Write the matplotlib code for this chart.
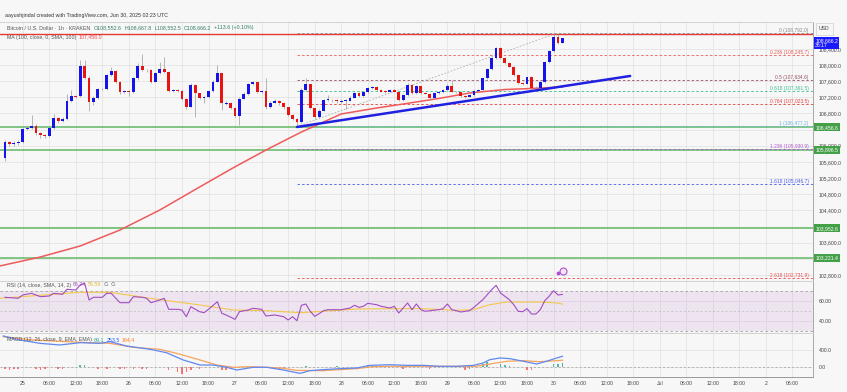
import matplotlib
matplotlib.use("Agg")
import matplotlib.pyplot as plt
import matplotlib.transforms as mtransforms

plt.rcParams['font.family'] = ['Liberation Sans', 'DejaVu Sans']

# ---------------- data ----------------
# hours counted from 2025-06-25 00:00 UTC, 1h candles (BTC/USD, Kraken)
candle_start_hour = -4
opens = [105690, 106100, 106050, 106060, 106100, 106410, 106440, 106500, 106310, 106260,
         106240, 106440, 106680, 106620, 106660, 107110, 107230, 107225, 107980, 107690,
         107075, 107180, 107400, 107410, 107750, 107860, 107590, 107330, 107340, 107330,
         107670, 107980, 107880, 107870, 107590, 107790, 107890, 107820, 107360, 107370,
         107360, 107160, 106970, 107505, 107300, 107190, 107200, 107360, 107590, 107790,
         107050, 107060, 106930, 106740, 107170, 107280, 107520, 107570, 107340, 107350,
         106950, 107070, 107110, 107050, 106950, 106760, 106660, 106580, 107380, 107520,
         106930, 106700, 106870, 107130, 107140, 107125, 107100, 107110, 107120, 107190,
         107315, 107230, 107330, 107422, 107447, 107381, 107340, 107335, 107381, 107340,
         107133, 107257, 107505, 107300, 107470, 107300, 107290, 107191, 107298, 107323,
         107381, 107488, 107340, 107320, 107232, 107216, 107257, 107365, 107370, 107670,
         107893, 108165, 108413, 108165, 108058, 107959, 107752, 107546, 107540, 107700,
         107422, 107440, 107571, 108066, 108355, 108702, 108552.6]
highs = [106150, 106130, 106110, 106140, 106440, 106480, 106760, 106530, 106330, 106290,
         106470, 106780, 106700, 106700, 107280, 107380, 107260, 108120, 108120, 107720,
         107230, 107430, 107440, 107780, 107950, 107880, 107610, 107380, 107370, 107700,
         108040, 108270, 107910, 107890, 107820, 108080, 108190, 107840, 107400, 107400,
         107380, 107180, 107560, 107520, 107310, 107230, 107380, 107620, 108000, 107810,
         107110, 107080, 106950, 107200, 107320, 107550, 107600, 107590, 107380, 107690,
         107100, 107150, 107130, 107060, 106960, 106780, 106680, 107420, 107690, 107540,
         106940, 106900, 107160, 107260, 107170, 107150, 107150, 107160, 107220, 107340,
         107340, 107350, 107450, 107470, 107470, 107400, 107370, 107400, 107400, 107360,
         107280, 107560, 107530, 107500, 107490, 107330, 107310, 107320, 107350, 107400,
         107520, 107630, 107360, 107340, 107260, 107280, 107390, 107400, 107690, 107920,
         108190, 108440, 108440, 108190, 108080, 107980, 107770, 107580, 107711, 107720,
         107470, 107600, 108090, 108380, 108792, 108760, 108667.8]
lows = [105620, 106000, 105990, 106020, 106060, 106380, 106420, 106260, 106200, 106190,
        106220, 106420, 106560, 106580, 106630, 107090, 107190, 107200, 107650, 106850,
        107000, 107150, 107370, 107390, 107730, 107560, 107290, 107300, 107220, 107310,
        107640, 107850, 107830, 107560, 107570, 107770, 107790, 107330, 107330, 107320,
        107130, 106920, 106950, 106700, 107150, 107050, 107180, 107340, 107570, 106880,
        107000, 106900, 106700, 106520, 107150, 107260, 107500, 107310, 107300, 106920,
        106930, 107050, 107020, 106920, 106730, 106630, 106477.2, 106560, 107360, 106900,
        106660, 106680, 106850, 107110, 107090, 107060, 107050, 106900, 107100, 107180,
        107200, 107210, 107310, 107400, 107360, 107320, 107310, 107320, 107320, 107110,
        107110, 107240, 107280, 107280, 107280, 107270, 107170, 107170, 107280, 107300,
        107360, 107320, 107300, 107210, 107190, 107200, 107240, 107340, 107350, 107650,
        107870, 108140, 108140, 108030, 107940, 107730, 107520, 107510, 107520, 107380,
        107380, 107420, 107550, 108040, 108330, 108530, 108552.5]
closes = [106100, 106050, 106060, 106100, 106410, 106440, 106500, 106310, 106260, 106240,
          106440, 106680, 106620, 106660, 107110, 107230, 107225, 107980, 107690, 107075,
          107180, 107400, 107410, 107750, 107860, 107590, 107330, 107340, 107330, 107670,
          107980, 107880, 107870, 107590, 107790, 107890, 107820, 107360, 107370, 107360,
          107160, 106970, 107505, 107300, 107190, 107200, 107360, 107590, 107790, 107050,
          107060, 106930, 106740, 107170, 107280, 107520, 107570, 107340, 107350, 106950,
          107070, 107110, 107050, 106950, 106760, 106660, 106580, 107380, 107520, 106930,
          106700, 106870, 107130, 107140, 107125, 107100, 107110, 107120, 107190, 107315,
          107230, 107330, 107422, 107447, 107381, 107340, 107335, 107381, 107340, 107133,
          107257, 107505, 107300, 107470, 107300, 107290, 107191, 107298, 107323, 107381,
          107488, 107340, 107320, 107232, 107216, 107257, 107365, 107370, 107670, 107893,
          108165, 108413, 108165, 108058, 107959, 107752, 107546, 107540, 107700, 107422,
          107440, 107571, 108066, 108355, 108702, 108552.6, 108666.2]

ma_hours = [-5.2, 4, 13, 22, 31, 40, 47.5, 55, 63, 72, 80, 86, 94, 101, 109, 115, 122]
ma_values = [103022, 103245, 103518, 103914, 104409, 104979, 105449, 105895, 106341,
             106787, 106935, 107034, 107170, 107307, 107393, 107418, 107456.0]

rsi_hours = [-4, -1, 0, 2, 4, 6, 7, 9, 10, 12, 13, 14, 15, 16, 18, 19, 20, 22, 24, 25,
             27, 28, 29, 31, 32, 33, 35, 36, 37, 38, 40, 41, 42, 44, 45, 46, 48, 49, 51, 52,
             54, 55, 57, 59, 60, 61, 62, 63, 64, 65, 66, 67, 68, 69, 72, 74, 75, 76, 77, 78,
             80, 81, 83, 84, 85, 86, 87, 88, 89, 90, 91, 94, 95, 96, 97, 98, 99, 101, 102, 104,
             105, 106, 107, 108, 109, 110, 111, 112, 113, 114, 115, 116, 117, 118, 119, 120, 121, 122]
rsi_values = [63.4, 62.4, 65.7, 67.4, 64.0, 64.7, 67.4, 66.4, 71.4, 70.7, 75.7, 77.4, 60.7, 63.4,
              63.4, 67.4, 67.4, 58.0, 58.0, 64.0, 63.4, 62.4, 58.0, 60.7, 62.4, 51.4, 51.4, 50.7,
              44.0, 54.0, 49.0, 48.0, 51.4, 59.0, 47.4, 45.7, 41.4, 49.0, 50.7, 52.4, 51.4, 44.7,
              45.7, 44.0, 40.7, 44.0, 40.0, 55.4, 56.7, 49.4, 44.4, 47.0, 50.0, 51.0, 51.0, 52.7,
              55.4, 53.4, 54.4, 57.4, 56.0, 54.4, 52.7, 54.4, 47.7, 52.7, 57.7, 51.0, 56.7, 51.0,
              49.4, 51.0, 52.0, 56.7, 51.0, 50.0, 48.7, 50.0, 53.4, 61.0, 66.0, 71.0, 75.4, 67.7,
              64.4, 61.0, 56.0, 49.4, 49.0, 52.0, 46.7, 46.7, 51.0, 60.0, 64.5, 70.0, 65.7, 66.24]
rsi_sma_hours = [-5.2, 13, 19.7, 28.8, 40.1, 47.6, 55.2, 62.7, 67.9, 75.6, 83, 90.5, 98.2,
                 101.8, 105.6, 109.5, 113.1, 116.9, 120.8, 122]
rsi_sma_values = [62.4, 68.4, 68.4, 62.4, 55.7, 50.7, 50.0, 48.0, 49.4, 51.7, 52.0, 52.0, 50.4,
                  51.0, 56.0, 58.7, 58.7, 58.7, 57.7, 56.59]

macd_hours = [-4.4, -0.6, 3.9, 8.4, 13.0, 17.5, 19.7, 23.5, 28.8, 32.5, 36.3, 40.1, 43.1, 46.1,
              48.4, 52.1, 55.2, 58.9, 60.4, 62.7, 64.9, 67.9, 71.7, 75.5, 78.5, 83.0, 86.8, 90.6,
              94.3, 98.1, 101.9, 104.1, 105.6, 107.9, 110.1, 113.2, 116.2, 118.4, 120.7, 122]
macd_values = [724, 631, 554, 516, 569, 554, 593, 492, 416, 338, 169, 53, 53, 0, -62, 0, 0, -62,
               -93, -140, -78, -54, -31, -16, 45, 60, 45, 45, 23, 23, 45, 100, 177, 215, 200, 139,
               77, 139, 215, 253.5]
signal_hours = [-4.4, 2.4, 9.9, 15.2, 19.7, 25.0, 31.0, 34.8, 40.1, 43.9, 47.6, 51.4, 55.2, 58.9,
                61.8, 67.9, 75.5, 79.2, 83.0, 90.6, 98.1, 102.6, 105.6, 109.4, 113.2, 116.9,
                120.7, 122]
signal_values = [708, 631, 593, 569, 554, 462, 416, 323, 169, 53, 0, 15, 0, -23, -70, -78, -31,
                 16, 23, 23, 23, 23, 77, 139, 154, 130, 154, 164.4]
hist_hours = [-4, -3, -2, -1, 3, 4, 5, 8, 9, 13, 14, 17, 19, 22, 23, 25, 27, 28, 33, 35, 36, 37,
              38, 40, 45, 46, 47, 57, 58, 59, 64, 71, 78, 79, 86, 92, 100, 101, 104, 105, 108,
              109, 110, 114, 115, 120, 121, 122]
hist_values = [-40, -60, -50, -40, -50, -60, -40, -40, -45, 50, 45, -40, -35, -45, -50, -40, -45,
               -50, -60, -110, -150, -100, -60, -50, -70, -60, -50, -40, -45, -40, 40, 30, 50,
               45, -35, -40, -55, -50, 80, 115, 70, 60, 40, -60, -70, 80, 85, 89.1]

support_levels = [106456.6, 105896.5, 103952.6, 103221.4]
resistance_level = 108760
fib_start_hour = 62
fib_ratio_labels = ['0', '0.236', '0.5', '0.618', '0.764', '1', '1.236', '1.618', '2.618']
fib_values = [108792.0, 108245.7, 107634.6, 107361.5, 107023.5, 106477.2, 105930.9, 105046.7, 102731.9]
fib_colors = ['#8a8a8a', '#f05a5a', '#9a5060', '#3cbf8f', '#e8403f', '#6fb2e0', '#b35ad0',
              '#4a5cf0', '#ee4b4b']
fib_swing_hours = [62, 120.8]
fib_swing_prices = [106477.2, 108792.0]
trend_hours = [62, 137.3]
trend_prices = [106465, 107728]
last_price, countdown = 108666.2, '36:17'
price_ticks = [102800, 103200, 103600, 104000, 104400, 104800, 105200, 105600, 106000,
               106400, 106800, 107200, 107600, 108000, 108400]
hidden_price_ticks = [103200, 104000, 106400]   # covered by the green price boxes
time_tick_hours = list(range(0, 175, 6))
time_tick_labels = ['25', '06:00', '12:00', '18:00', '26', '06:00', '12:00', '18:00',
                    '27', '06:00', '12:00', '18:00', '28', '06:00', '12:00', '18:00',
                    '29', '06:00', '12:00', '18:00', '30', '06:00', '12:00', '18:00',
                    'Jul', '06:00', '12:00', '18:00', '2', '06:00']

# ---------------- figure ----------------
W, H = 847, 392
BG = '#f7f7f7'
GRID = '#e4e4e4'
FS = 3.7
XMIN, XMAX = -5.13, 178.64

fig = plt.figure(figsize=(W / 100, H / 100), dpi=100, facecolor=BG)


def rect(x0, y0, x1, y1):
    return [x0 / W, 1 - y1 / H, (x1 - x0) / W, (y1 - y0) / H]


ax = fig.add_axes(rect(0, 22, 813, 280.5))
ax_rsi = fig.add_axes(rect(0, 280.5, 813, 333))
ax_macd = fig.add_axes(rect(0, 333, 813, 377))

for a in (ax, ax_rsi, ax_macd):
    a.set_facecolor(BG)
    a.set_xlim(XMIN, XMAX)
    a.set_xticks(time_tick_hours)
    a.grid(True, color=GRID, lw=0.6)
    a.set_axisbelow(True)
    a.yaxis.tick_right()
    a.tick_params(axis='both', length=0, labelsize=FS, labelcolor='#444')
    a.tick_params(axis='y', pad=4)
    a.tick_params(axis='x', labelbottom=False)
    for s in a.spines.values():
        s.set_color('#d2d2d2')
        s.set_linewidth(0.7)
    a.spines['left'].set_visible(False)
    a.spines['right'].set_color('#a8a8a8')
ax.spines['bottom'].set_visible(False)
ax_rsi.spines['bottom'].set_visible(False)
ax_macd.spines['bottom'].set_color('#9a9a9a')

# ---- main price pane ----
ax.set_ylim(102663, 109065)
ax.set_yticks(price_ticks)
ax.set_yticklabels(['' if v in hidden_price_ticks else f"{v:,.1f}" for v in price_ticks])

for lvl in support_levels:
    ax.axhline(lvl, color='#4caf50', lw=1.3, alpha=0.75, zorder=2)
ax.axhline(resistance_level, color='#e53935', lw=1.0, zorder=2)

for lvl, col in zip(fib_values, fib_colors):
    ax.hlines(lvl, fib_start_hour, XMAX, color=col, lw=0.6, linestyles=(0, (3, 2.5)), zorder=2)
for lab, lvl, col in zip(fib_ratio_labels, fib_values, fib_colors):
    ax.text(177.7, lvl, f"{lab} ({lvl:,.1f})", ha='right', va='bottom', fontsize=FS - 0.2,
            color=col, zorder=6)
ax.plot(fib_swing_hours, fib_swing_prices, color='#b0b0b0', lw=0.6, ls=(0, (2, 2)), zorder=2)

ax.plot(ma_hours, ma_values, color='#ef5a5a', lw=1.1, zorder=3)

UP, DOWN = '#1414ea', '#e81414'
for i, (o, hi, lo, c) in enumerate(zip(opens, highs, lows, closes)):
    t = candle_start_hour + i
    col = UP if c >= o else DOWN
    ax.vlines(t, lo, hi, color='#9a9a9a', lw=0.5, zorder=4)
    body = abs(c - o)
    if body < 22:
        bottom, body = (o + c) / 2 - 11, 22
    else:
        bottom = min(o, c)
    ax.bar(t, body, bottom=bottom, width=0.64, color=col, lw=0, zorder=5)

ax.plot(trend_hours, trend_prices, color='#2020e0', lw=1.8, solid_capstyle='round', zorder=6)

ax.plot(122.2, 102900, 'o', ms=5, mfc='#f3e5f5', mec='#b050d0', mew=0.8, zorder=7)
ax.plot(120.9, 102840, 'o', ms=1.8, color='#b050d0', zorder=7)

trans = mtransforms.blended_transform_factory(ax.transAxes, ax.transData)
for lvl in support_levels:
    ax.text(1.0028, lvl, f"{lvl:,.1f}", transform=trans, ha='left', va='center', fontsize=FS,
            color='white', clip_on=False, zorder=10,
            bbox=dict(boxstyle='square,pad=0.3', fc='#43a047', ec='none'))
ax.text(1.0028, 108545, f"{last_price:,.1f}\n{countdown}", transform=trans, ha='left',
        va='center', fontsize=FS, color='white', clip_on=False, zorder=10, linespacing=1.05,
        bbox=dict(boxstyle='square,pad=0.25', fc='#1a1aff', ec='none'))

# ---- RSI pane ----
ax_rsi.set_ylim(27.7, 80.2)
ax_rsi.set_yticks([40, 60, 80])
ax_rsi.set_yticklabels(['40.00', '60.00', ''])
ax_rsi.axhspan(30, 70, color='#9c27b0', alpha=0.09, lw=0)
for v in (70, 30):
    ax_rsi.axhline(v, color='#a0a0a0', lw=0.6, ls=(0, (3, 3)))
ax_rsi.axhline(50, color='#a0a0a0', lw=0.5, ls=(0, (3, 3)), alpha=0.6)
ax_rsi.plot(rsi_sma_hours, rsi_sma_values, color='#f2c84b', lw=0.8)
ax_rsi.plot(rsi_hours, rsi_values, color='#a24cc2', lw=0.8)

# ---- MACD pane ----
ax_macd.set_ylim(-224, 793)
ax_macd.set_yticks([0, 400])
ax_macd.set_yticklabels(['0.0', '400.0'])
ax_macd.axhline(0, color='#a0a0a0', lw=0.5, ls=(0, (3, 3)))
ax_macd.bar(hist_hours, hist_values, width=0.35, lw=0,
            color=['#26a69a' if v >= 0 else '#ff5252' for v in hist_values], alpha=0.8)
ax_macd.plot(signal_hours, signal_values, color='#f7a35c', lw=0.9)
ax_macd.plot(macd_hours, macd_values, color='#6088f2', lw=0.9)
ax_macd.set_xticklabels(time_tick_labels)
ax_macd.tick_params(axis='x', labelbottom=True, pad=3)

# ---- header / legend texts ----
renderer = fig.canvas.get_renderer()


def multi_text(x_px, y_px, parts, gap=2.0):
    x = x_px
    for s, c in parts:
        t = fig.text(x / W, 1 - y_px / H, s, color=c, fontsize=FS + 0.1, va='center', ha='left')
        x += t.get_window_extent(renderer).width + gap


fig.text(5 / W, 1 - 16 / H, 'aayushjindal created with TradingView.com, Jun 30, 2025 02:23 UTC',
         fontsize=FS + 0.1, color='#333', va='center')
GREEN_TXT = '#2f7d5c'
GRAY_TXT = '#555'
multi_text(7, 28, [('Bitcoin / U.S. Dollar · 1h · KRAKEN', GRAY_TXT), ('O108,552.6', GREEN_TXT),
                   ('H108,667.8', GREEN_TXT), ('L108,552.5', GREEN_TXT),
                   ('C108,666.2', GREEN_TXT), ('+113.6 (+0.10%)', GREEN_TXT)], gap=3)
multi_text(7, 37, [('MA (100, close, 0, SMA, 100)', GRAY_TXT), ('107,456.0', '#ef4f4f')])
multi_text(7, 285, [('RSI (14, close, SMA, 14, 2)', GRAY_TXT), ('66.24', '#a24cc2'),
                    ('56.59', '#e6b830'), ('∅', GRAY_TXT), ('∅', GRAY_TXT)])
multi_text(7, 340, [('MACD (12, 26, close, 9, EMA, EMA)', GRAY_TXT), ('89.1', '#26a69a'),
                    ('253.5', '#2962ff'), ('164.4', '#ff7a1a')])
fig.text(819 / W, 1 - 29 / H, 'USD', fontsize=FS, color='#444', va='center',
         bbox=dict(boxstyle='square,pad=0.6', fc=BG, ec='#d0d0d0', lw=0.5))

fig.savefig('out.png', dpi=100, facecolor=BG)
